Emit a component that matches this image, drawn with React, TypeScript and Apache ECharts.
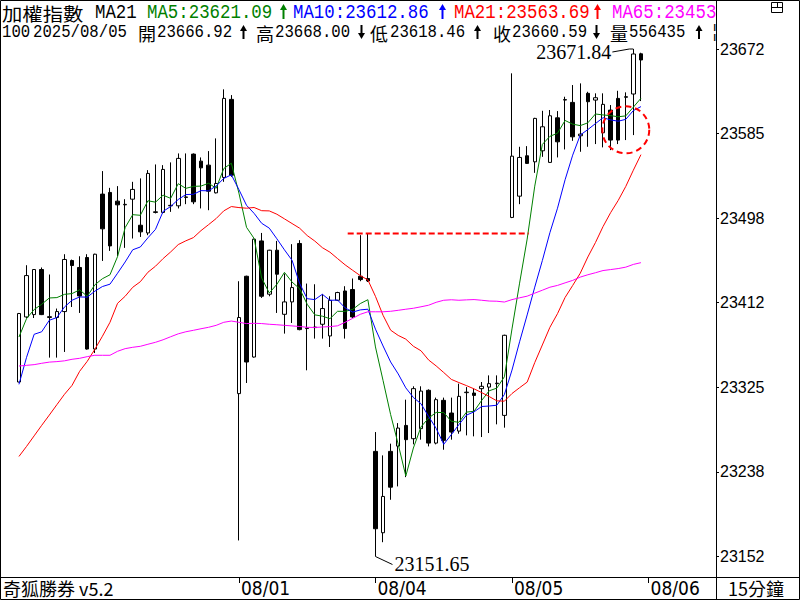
import React, { useEffect, useRef } from "react";
import * as echarts from "echarts";

// ---------- categories (15-minute bars) ----------
const sessionTimes = ["09:15","09:30","09:45","10:00","10:15","10:30","10:45","11:00","11:15","11:30","11:45","12:00","12:15","12:30","12:45","13:00","13:15","13:30"];
const tradingDays = ["07/30","07/31","08/01","08/04","08/05","08/06"];
const barsShown = [11, 18, 18, 18, 18, 0];
const labeledDays = ["08/01","08/04","08/05","08/06"];
const LEAD = 2;
const TAIL = 9;

// ---------- OHLC ----------
const opens = [23330.5,23397.2,23399.6,23445.8,23396.6,23396.6,23402.7,23455.0,23447.9,23458.1,23364.3,
  23523.1,23524.8,23515.9,23512.1,23517.9,23491.2,23483.3,23504.3,23504.3,23511.1,23511.1,23519.7,23564.1,23556.9,23552.8,23524.4,23540.2,23620.2,
  23318.6,23438.9,23356.1,23475.1,23420.5,23465.6,23399.9,23412.6,23472.5,23385.3,23386.3,23389.7,23377.7,23414.3,23423.8,23425.3,23438.9,23436.6,
  23259.4,23176.0,23259.4,23264.8,23286.0,23272.4,23282.7,23322.0,23267.9,23311.7,23298.7,23280.2,23319.6,23319.2,23323.7,23325.3,23328.8,23296.3,
  23499.2,23521.0,23562.4,23556.2,23567.5,23555.6,23601.3,23619.5,23617.1,23582.9,23626.4,23619.5,23586.0,23609.2,23621.2,23622.9,23625.7,23666.92];
const closes = [23400.7,23439.6,23445.8,23399.6,23397.5,23402.7,23456.1,23449.9,23418.7,23364.3,23461.5,
  23487.5,23470.0,23512.1,23512.6,23527.9,23484.4,23544.3,23505.0,23548.4,23511.6,23559.7,23520.2,23515.2,23550.0,23526.1,23534.0,23621.2,23542.5,
  23396.6,23351.0,23476.9,23418.4,23465.6,23441.0,23412.6,23427.3,23384.2,23385.8,23386.8,23405.8,23414.3,23422.2,23385.3,23397.2,23435.5,23434.1,
  23180.1,23213.2,23222.7,23283.3,23271.4,23323.7,23321.2,23267.9,23312.4,23270.7,23279.2,23315.8,23320.1,23316.8,23326.1,23328.8,23329.3,23378.4,
  23562.0,23560.7,23554.6,23600.7,23592.1,23603.4,23576.7,23620.0,23581.8,23584.6,23617.8,23621.9,23615.1,23578.5,23578.5,23622.4,23666.7,23660.59];
const lows = [23330.2,23395.8,23396.1,23399.1,23355.5,23355.5,23361.3,23407.4,23401.3,23363.7,23360.2,
  23454.6,23464.9,23459.4,23468.0,23477.6,23479.2,23481.0,23503.3,23503.3,23504.9,23508.4,23512.8,23512.8,23508.4,23506.6,23523.8,23535.7,23540.8,
  23168.1,23329.5,23355.5,23416.7,23418.4,23401.3,23380.1,23391.0,23383.5,23342.5,23375.0,23375.0,23366.4,23413.5,23375.0,23396.0,23433.8,23433.0,
  23151.65,23166.3,23209.8,23223.5,23233.0,23266.6,23271.4,23264.5,23266.6,23261.1,23271.4,23277.5,23275.8,23274.8,23274.1,23278.2,23287.1,23283.7,
  23498.5,23512.8,23554.0,23544.9,23561.3,23555.0,23560.7,23568.9,23577.7,23566.5,23571.6,23574.4,23571.0,23568.2,23574.4,23578.5,23583.6,23618.46];
const highs = [23401.3,23450.2,23446.3,23447.9,23440.7,23405.8,23461.5,23456.0,23459.4,23461.5,23462.0,
  23546.7,23529.5,23531.3,23517.9,23535.7,23539.2,23547.7,23553.5,23552.8,23555.6,23564.8,23564.8,23564.8,23560.7,23567.2,23580.2,23630.5,23624.6,
  23433.8,23439.5,23477.5,23483.3,23466.0,23475.1,23441.7,23471.8,23475.9,23431.4,23430.7,23420.5,23418.4,23423.0,23428.7,23436.6,23481.0,23482.7,
  23279.2,23255.3,23267.3,23288.4,23312.4,23326.1,23326.1,23323.0,23314.5,23314.5,23314.5,23328.8,23325.3,23323.7,23330.5,23337.3,23337.3,23379.0,
  23646.9,23571.6,23572.3,23601.3,23608.5,23609.3,23608.2,23622.9,23634.9,23636.6,23628.0,23626.4,23626.4,23614.4,23629.0,23627.4,23671.84,23668.00];

// ---------- moving-average values read before enough history is on screen ----------
const ma5Lead = [23376.6,23395.5,23404.8,23410.2];
const ma10Lead = [23328.1,23355.8,23379.4,23382.0,23393.8,23396.6,23407.4,23414.3,23417.7];
const ma21Lead = [23254.2,23264.5,23275.3,23286.1,23296.6,23307.3,23317.9,23327.1,23341.5,23351.7,
  23364.0,23377.4,23391.7,23411.2,23418.4,23427.6,23433.3,23443.0,23449.2,23457.0];
const ma65Lead = [23346.9,23347.6,23348.3,23349.7,23350.9,23351.4,23352.2,23353.8,23354.8,23356.5,
  23357.9,23357.9,23357.9,23362.0,23364.7,23366.1,23367.1,23369.2,23371.2,23373.8,
  23376.9,23379.9,23382.0,23383.5,23385.1,23386.6,23388.6,23391.7,23393.0,23391.7,
  23390.4,23390.7,23390.4,23389.7,23389.2,23388.6,23388.0,23387.4,23386.6,23386.4,
  23386.9,23387.3,23388.1,23391.7,23395.8,23399.9,23402.5,23402.5,23402.5,23403.0,
  23404.0,23405.1,23406.1,23407.6,23409.2,23412.2,23414.3,23414.8,23414.3,23414.7,
  23415.0,23414.3,23413.5,23413.3];

// ---------- axis ticks ----------
const yTicks = [23151.65,23238.35,23325.05,23411.75,23498.44,23585.14,23671.84];

// ---------- header texts (kind: m = latin, c = CJK, a = arrow) ----------
const headerRow1 = [
  { k: "c", t: "加權指數", x: 2, c: "#000000" },
  { k: "m", t: "MA21", x: 95, c: "#000000" },
  { k: "m", t: "MA5:23621.09", x: 147, c: "#008000" },
  { k: "a", t: "up", x: 283.5, c: "#008000" },
  { k: "m", t: "MA10:23612.86", x: 293, c: "#0000ff" },
  { k: "a", t: "up", x: 442.5, c: "#0000ff" },
  { k: "m", t: "MA21:23563.69", x: 454, c: "#ff0000" },
  { k: "a", t: "up", x: 597.5, c: "#ff0000" },
  { k: "m", t: "MA65:23453.12", x: 612, c: "#ff00ff" },
];
const headerRow2 = [
  { k: "m", t: "100", x: 2 },
  { k: "m", t: "2025/08/05", x: 33 },
  { k: "c", t: "開", x: 138 },
  { k: "m", t: "23666.92", x: 157 },
  { k: "a", t: "up", x: 243.5 },
  { k: "c", t: "高", x: 256 },
  { k: "m", t: "23668.00", x: 275 },
  { k: "a", t: "down", x: 361.5 },
  { k: "c", t: "低", x: 370 },
  { k: "m", t: "23618.46", x: 390 },
  { k: "a", t: "up", x: 477.5 },
  { k: "c", t: "收", x: 493 },
  { k: "m", t: "23660.59", x: 512 },
  { k: "a", t: "down", x: 596.5 },
  { k: "c", t: "量", x: 610 },
  { k: "m", t: "556435", x: 629 },
  { k: "a", t: "up", x: 699 },
  { k: "m", t: "¦", x: 710 },
];

const SERIF = '"Liberation Serif", "Noto Sans CJK TC", serif';
const MONO = '"Liberation Mono", "DejaVu Sans Mono", monospace';
const CJK = '"Noto Sans CJK TC", "Liberation Sans", sans-serif';

function movingAverage(n: number, lead: number[]) {
  return closes.map((_, i) => {
    if (i < lead.length) return lead[i];
    let s = 0;
    for (let k = i - n + 1; k <= i; k++) s += closes[k];
    return +(s / n).toFixed(2);
  });
}

export default function App() {
  const ref = useRef<HTMLDivElement>(null);
  useEffect(() => {
    if (!ref.current) return;
    const chart = echarts.init(ref.current, undefined, { renderer: "svg" });

    const firstShown = barsShown[0];
    const leadCats = sessionTimes.slice(18 - firstShown - LEAD, 18 - firstShown).map((t) => tradingDays[0] + " " + t);
    const barCats: string[] = [];
    tradingDays.forEach((d, k) => sessionTimes.slice(18 - barsShown[k]).forEach((t) => barCats.push(d + " " + t)));
    const tailCats = sessionTimes.slice(0, TAIL).map((t) => tradingDays[tradingDays.length - 1] + " " + t);
    const cats = [...leadCats, ...barCats, ...tailCats];

    const isDayStart = (idx: number) =>
      cats[idx].endsWith(" 09:15") && labeledDays.includes(cats[idx].slice(0, 5));

    const candleData = cats.map((_, s) => {
      const i = s - LEAD;
      if (i < 0 || i >= opens.length) return "-";
      return [opens[i], closes[i], lows[i], highs[i]];
    });
    const pad = (arr: number[]) => [
      ...new Array(LEAD).fill(null),
      ...arr,
      ...new Array(cats.length - LEAD - arr.length).fill(null),
    ];

    const step = (yTicks[6] - yTicks[0]) / 6;
    const minorVals: number[] = [];
    for (let k = 0; k < 6; k++) for (let q = 1; q <= 3; q++) minorVals.push(yTicks[k] + (q * step) / 4);

    const lineSeries = (name: string, data: number[], color: string) => ({
      name,
      type: "line",
      data: pad(data),
      symbol: "none",
      showSymbol: false,
      connectNulls: false,
      lineStyle: { color, width: 1 },
      itemStyle: { color },
      silent: true,
    });

    chart.setOption({
      animation: false,
      backgroundColor: "#ffffff",
      grid: { left: 0, top: 49, width: 713, height: 507.5, containLabel: false },
      xAxis: {
        type: "category",
        data: cats,
        boundaryGap: true,
        offset: 20.5,
        axisLine: { show: false },
        splitLine: { show: false },
        axisTick: {
          show: true,
          alignWithLabel: true,
          interval: (i: number) => isDayStart(i),
          length: 6,
          lineStyle: { color: "#000", width: 1 },
        },
        axisLabel: {
          interval: (i: number) => isDayStart(i),
          formatter: (v: string) => v.slice(0, 5),
          align: "left",
          margin: 1,
          padding: [0, 0, 0, 2],
          fontSize: 19,
          color: "#000",
          fontFamily: '"Liberation Sans Narrow", "DejaVu Sans Condensed", "Liberation Sans", sans-serif',
        },
      },
      yAxis: [
        {
          type: "value",
          position: "right",
          offset: 3,
          min: yTicks[0],
          max: yTicks[6],
          axisLine: { show: false },
          splitLine: { show: false },
          axisTick: { show: true, customValues: yTicks, length: 3, lineStyle: { color: "#000" } },
          axisLabel: {
            customValues: yTicks,
            formatter: (v: number) => String(Math.round(v)),
            margin: 4,
            fontSize: 16,
            color: "#000",
            fontFamily: '"Liberation Sans", sans-serif',
          },
        },
        {
          type: "value",
          position: "right",
          offset: 3,
          min: yTicks[0],
          max: yTicks[6],
          axisLine: { show: false },
          splitLine: { show: false },
          axisTick: { show: true, customValues: minorVals, length: 1, lineStyle: { color: "#000" } },
          axisLabel: { show: false },
        },
      ],
      series: [
        {
          name: "K",
          type: "candlestick",
          data: candleData,
          barWidth: 4,
          silent: true,
          itemStyle: {
            color: "#ffffff",
            color0: "#000000",
            borderColor: "#000000",
            borderColor0: "#000000",
            borderWidth: 1,
          },
        },
        lineSeries("MA5", movingAverage(5, ma5Lead), "#008000"),
        lineSeries("MA10", movingAverage(10, ma10Lead), "#0000ff"),
        lineSeries("MA21", movingAverage(21, ma21Lead), "#ff0000"),
        lineSeries("MA65", movingAverage(65, ma65Lead), "#ff00ff"),
      ],
    });

    const px = (barIdx: number, val: number) =>
      chart.convertToPixel({ xAxisIndex: 0, yAxisIndex: 0 }, [barIdx + LEAD, val]) as number[];

    const maxIdx = highs.indexOf(Math.max(...highs));
    const minIdx = lows.indexOf(Math.min(...lows));
    const pMax = px(maxIdx, highs[maxIdx]);
    const pMin = px(minIdx, lows[minIdx]);
    const resIdx = 46;
    const pResStart = px(44, highs[resIdx]);
    const pResEnd = px(67, highs[resIdx]);
    const pCircle = px(80, 23589);

    const g: any[] = [];

    const headerItem = (h: any, yc: number, top: number, bottom: number, fs: number, cjkScale: number, monoScale: number, color: string) => {
      if (h.k === "a") {
        const up = h.t === "up";
        const tipY = up ? top : bottom;
        const baseY = up ? top + 6 : bottom - 6;
        g.push({ type: "line", z: 50, shape: { x1: h.x, y1: up ? top + 3 : top, x2: h.x, y2: up ? bottom : bottom - 3 }, style: { stroke: color, lineWidth: 2 } });
        g.push({ type: "polygon", z: 50, shape: { points: [[h.x - 3.5, baseY], [h.x, tipY], [h.x + 3.5, baseY]] }, style: { fill: color } });
      } else if (h.k === "c") {
        g.push({ type: "text", z: 50, x: h.x, y: yc, scaleX: cjkScale, style: { text: h.t, x: 0, y: 0, fill: color, fontSize: fs, fontFamily: CJK, verticalAlign: "middle", align: "left" } });
      } else {
        g.push({ type: "text", z: 50, x: h.x, y: yc, scaleX: monoScale, style: { text: h.t, x: 0, y: 0, fill: color, fontSize: fs, fontFamily: MONO, verticalAlign: "middle", align: "left" } });
      }
    };
    headerRow1.forEach((h) => headerItem(h, h.k === "c" ? 13.5 : 12.5, 4, 19, h.k === "c" ? 18 : 20, 1.13, 0.87, h.c));
    headerRow2.forEach((h) => headerItem(h, 32.5, 25, 39, 18, 1, 0.87, "#000000"));

    // right header panel cover + icon
    g.push({ type: "rect", z: 60, shape: { x: 717, y: 1, width: 82, height: 39 }, style: { fill: "#ffffff" } });
    g.push({ type: "rect", z: 61, shape: { x: 771.5, y: 2.5, width: 11, height: 10 }, style: { fill: "none", stroke: "#000", lineWidth: 1 } });
    g.push({ type: "line", z: 61, shape: { x1: 771.5, y1: 7.5, x2: 782.5, y2: 7.5 }, style: { stroke: "#000", lineWidth: 1 } });
    g.push({ type: "line", z: 61, shape: { x1: 777.5, y1: 2.5, x2: 777.5, y2: 7.5 }, style: { stroke: "#000", lineWidth: 1 } });

    // frame
    g.push({ type: "rect", z: 70, shape: { x: 0.5, y: 0.5, width: 799, height: 599 }, style: { fill: "none", stroke: "#000", lineWidth: 1 } });
    g.push({ type: "line", z: 70, shape: { x1: 716.5, y1: 0, x2: 716.5, y2: 600 }, style: { stroke: "#000", lineWidth: 1 } });
    g.push({ type: "line", z: 70, shape: { x1: 0, y1: 577.5, x2: 800, y2: 577.5 }, style: { stroke: "#000", lineWidth: 1 } });

    // bottom strip texts
    g.push({ type: "text", z: 70, style: { text: "奇狐勝券 v5.2", x: 3, y: 588, fill: "#000", fontSize: 18, fontFamily: CJK, verticalAlign: "middle" } });
    g.push({ type: "text", z: 70, style: { text: "15分鐘", x: 728, y: 588, fill: "#000", fontSize: 18, fontFamily: CJK, verticalAlign: "middle" } });

    // max / min annotations
    g.push({
      type: "polyline", z: 40,
      shape: { points: [[pMax[0] - 21, pMax[1] + 3], [pMax[0] - 4, pMax[1]], [pMax[0], pMax[1]]] },
      style: { stroke: "#000", lineWidth: 1, fill: "none" },
    });
    g.push({
      type: "text", z: 40,
      style: { text: highs[maxIdx].toFixed(2), x: pMax[0] - 22, y: pMax[1] + 3, fill: "#000", fontSize: 20, fontFamily: SERIF, align: "right", verticalAlign: "middle" },
    });
    g.push({
      type: "polyline", z: 40,
      shape: { points: [[pMin[0], pMin[1]], [pMin[0] + 17, pMin[1] + 8]] },
      style: { stroke: "#000", lineWidth: 1, fill: "none" },
    });
    g.push({
      type: "text", z: 40,
      style: { text: lows[minIdx].toFixed(2), x: pMin[0] + 19, y: pMin[1] + 7, fill: "#000", fontSize: 20, fontFamily: SERIF, align: "left", verticalAlign: "middle" },
    });

    // red dashed resistance line and circle
    g.push({
      type: "line", z: 40,
      shape: { x1: pResStart[0] - 5, y1: pResStart[1], x2: pResEnd[0] + 1.5, y2: pResEnd[1] },
      style: { stroke: "#ff0000", lineWidth: 2, lineDash: [6, 3] },
    });
    g.push({
      type: "circle", z: 40,
      shape: { cx: pCircle[0], cy: pCircle[1], r: 23.5 },
      style: { fill: "none", stroke: "#ff0000", lineWidth: 2, lineDash: [6, 4] },
    });

    chart.setOption({ graphic: { elements: g } });

    return () => chart.dispose();
  }, []);

  return (
    <div
      ref={ref}
      style={{ position: "absolute", left: 0, top: 0, width: 800, height: 600, background: "#ffffff" }}
    />
  );
}
